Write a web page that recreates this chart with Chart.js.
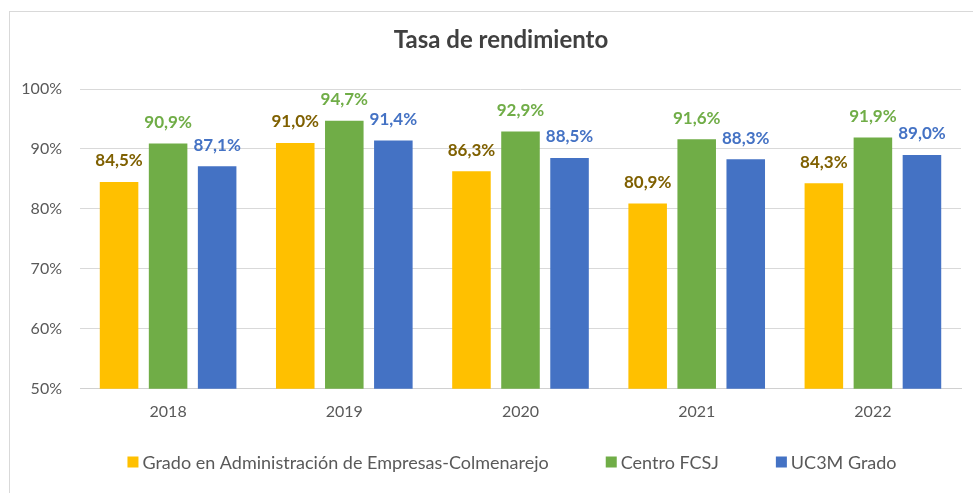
<!DOCTYPE html>
<html>
<head>
<meta charset="utf-8">
<script src="https://cdn.jsdelivr.net/npm/chart.js@4.4.1/dist/chart.umd.min.js"></script>
<style>
  html, body { margin: 0; padding: 0; background: #fff; overflow: hidden; }
  #frame { position: absolute; left: 9px; top: 11px; width: 1000px; height: 520px; border: 1px solid #d9d9d9; }
  #wrap { position: absolute; left: 0; top: 0; width: 973px; height: 493px; }
</style>
</head>
<body>
<div id="frame"></div>
<div id="wrap"><canvas id="chart" width="973" height="493"></canvas></div>
<script>
const years = ["2018", "2019", "2020", "2021", "2022"];
const seriesNames = ["Grado en Administración de Empresas-Colmenarejo", "Centro FCSJ", "UC3M Grado"];
const gradoValues = [84.5, 91.0, 86.3, 80.9, 84.3];
const centroValues = [90.9, 94.7, 92.9, 91.6, 91.9];
const uc3mValues = [87.1, 91.4, 88.5, 88.3, 89.0];
const yTicks = [50, 60, 70, 80, 90, 100];
const titleText = "Tasa de rendimiento";

const barColors = ["#FFC000", "#70AD47", "#4472C4"];
const labelColors = ["#7F6000", "#70AD47", "#4472C4"];
const fontFamily = "Lato, 'Open Sans', sans-serif";

const fmt = (v) => v.toFixed(1).replace(".", ",") + "%";

// draws the value above each bar
const valueLabels = {
  id: "valueLabels",
  afterDatasetsDraw(chart) {
    const ctx = chart.ctx;
    ctx.save();
    ctx.font = "bold 17px " + fontFamily;
    ctx.textAlign = "center";
    ctx.textBaseline = "middle";
    chart.data.datasets.forEach((ds, i) => {
      const meta = chart.getDatasetMeta(i);
      ctx.fillStyle = labelColors[i];
      meta.data.forEach((bar, j) => {
        ctx.fillText(fmt(ds.data[j]), bar.x, bar.y - 21);
      });
    });
    ctx.restore();
  },
};

// title and legend drawn in the space kept free above and below
const titleAndLegend = {
  id: "titleAndLegend",
  afterDraw(chart) {
    const ctx = chart.ctx;
    ctx.save();
    ctx.font = "bold 24px " + fontFamily;
    ctx.fillStyle = "#404040";
    ctx.textAlign = "center";
    ctx.textBaseline = "middle";
    ctx.fillText(titleText, 501, 40);

    const box = 11, gapText = 4, gapItem = 57, cy = 462, cx = 512;
    ctx.font = "18px " + fontFamily;
    ctx.textAlign = "left";
    const widths = seriesNames.map((n) => ctx.measureText(n).width);
    const total = widths.reduce((s, w) => s + box + gapText + w, 0) + gapItem * (seriesNames.length - 1);
    let x = cx - total / 2;
    seriesNames.forEach((n, i) => {
      ctx.fillStyle = barColors[i];
      ctx.fillRect(x, cy - box / 2, box, box);
      x += box + gapText;
      ctx.fillStyle = "#595959";
      ctx.fillText(n, x, cy + 1);
      x += widths[i] + gapItem;
    });
    ctx.restore();
  },
};

const ctx = document.getElementById("chart").getContext("2d");
new Chart(ctx, {
  type: "bar",
  data: {
    labels: years,
    datasets: [gradoValues, centroValues, uc3mValues].map((vals, i) => ({
      label: seriesNames[i],
      data: vals,
      backgroundColor: barColors[i],
      borderWidth: 0,
      categoryPercentage: 0.835,
      barPercentage: 0.786,
    })),
  },
  options: {
    responsive: false,
    animation: false,
    layout: { padding: { left: 0, right: 12, top: 89, bottom: 67 } },
    plugins: {
      title: { display: false },
      legend: { display: false },
      tooltip: { enabled: false },
    },
    scales: {
      x: {
        grid: { display: false },
        border: { color: "#d0d0d0" },
        ticks: { color: "#595959", font: { family: fontFamily, size: 16 }, padding: 5 },
      },
      y: {
        min: 50,
        max: 100,
        afterBuildTicks: (axis) => { axis.ticks = yTicks.map((v) => ({ value: v })); },
        afterFit: (axis) => { axis.width = 80; },
        grid: { color: "#d9d9d9", drawTicks: false },
        border: { display: false },
        ticks: {
          color: "#595959",
          font: { family: fontFamily, size: 16 },
          padding: 18,
          callback: (v) => v + "%",
        },
      },
    },
  },
  plugins: [valueLabels, titleAndLegend],
});
</script>
</body>
</html>
